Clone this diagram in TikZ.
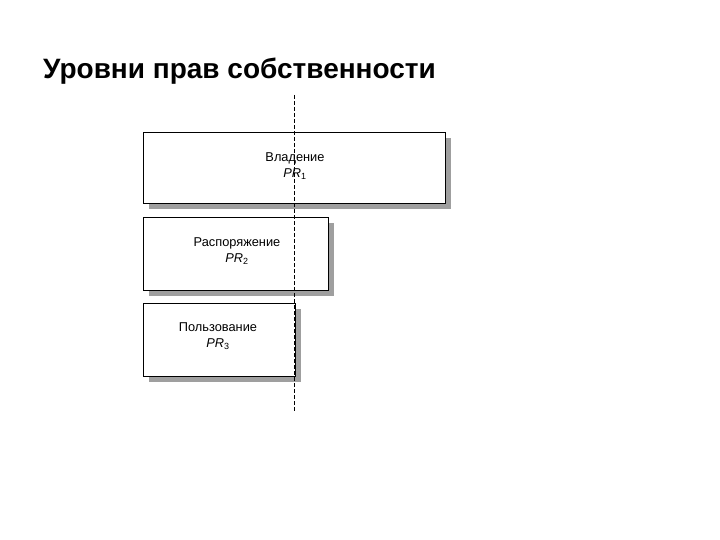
\documentclass[tikz,border=0pt]{standalone}
\usepackage{fontspec}
\setmainfont{Liberation Sans}
\begin{document}
\begin{tikzpicture}[x=1pt,y=-1pt,
  levelbox/.style={draw=black,fill=white,line width=0.8pt},
  shade/.style={fill=gray!75},
  lbl/.style={font=\fontsize{12.8}{16}\selectfont,align=center}]
\useasboundingbox (0,0) rectangle (720,540);
\node[anchor=base west,inner sep=0pt,font=\bfseries\fontsize{28}{32}\selectfont] (title) at (43,79) {Уровни прав собственности};
% shadows
\fill[shade] (149,138) rectangle (451,209);
\fill[shade] (149,223) rectangle (334,296);
\fill[shade] (149,309) rectangle (301,382);
\draw[levelbox] (143,132) rectangle (445,203);
\draw[levelbox] (143,217) rectangle (328,290);
\draw[levelbox] (143,303) rectangle (295,376);
\node[lbl] (t1) at (295,166) {Владение\\\textit{PR}\textsubscript{1}};
\node[lbl] (t2) at (237,251) {Распоряжение\\\textit{PR}\textsubscript{2}};
\node[lbl] (t3) at (218,336) {Пользование\\\textit{PR}\textsubscript{3}};
\coordinate (dtop) at (294,95);
\coordinate (dbot) at (294,412);
\draw[dashed,line width=0.7pt,dash pattern=on 4pt off 2pt] (dtop) -- (dbot);
\end{tikzpicture}
\end{document}
